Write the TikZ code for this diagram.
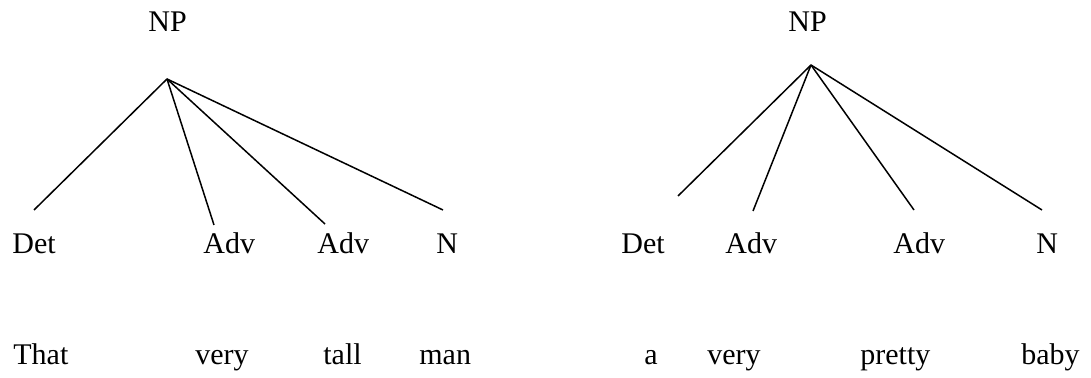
\documentclass[tikz,border=0pt]{standalone}
\usepackage{fontspec}
\setmainfont{Liberation Serif}
\usetikzlibrary{positioning}

\begin{document}
\begin{tikzpicture}[x=0.5pt, y=-0.5pt,
    lbl/.style={anchor=base west, inner sep=0pt, font=\fontsize{15}{18}\selectfont},
    branch/.style={line width=0.75pt, black}]
  \useasboundingbox (0,0) rectangle (1091,378);

  % Left tree: That very tall man
  \node[lbl] (npL) at (148, 32) {NP};
  \coordinate (topL) at (167, 79);
  \node[lbl] (detL) at (12, 254) {Det};
  \node[lbl] (advLa) at (203, 254) {Adv};
  \node[lbl] (advLb) at (317, 254) {Adv};
  \node[lbl] (nL) at (436, 254) {N};
  \coordinate (detLend) at (34, 210);
  \coordinate (advLaend) at (214, 225);
  \coordinate (advLbend) at (325, 224);
  \coordinate (nLend) at (443, 210);
  \node[lbl] (wThat) at (13, 365) {That};
  \node[lbl] (wVeryL) at (195, 365) {very};
  \node[lbl] (wTall) at (323, 365) {tall};
  \node[lbl] (wMan) at (419, 365) {man};

  \draw[branch] (topL) -- (detLend);
  \draw[branch] (topL) -- (advLaend);
  \draw[branch] (topL) -- (advLbend);
  \draw[branch] (topL) -- (nLend);

  % Right tree: a very pretty baby
  \node[lbl] (npR) at (788, 32) {NP};
  \coordinate (topR) at (811, 65);
  \node[lbl] (detR) at (621, 254) {Det};
  \node[lbl] (advRa) at (725, 254) {Adv};
  \node[lbl] (advRb) at (893, 254) {Adv};
  \node[lbl] (nR) at (1036, 254) {N};
  \coordinate (detRend) at (678, 196);
  \coordinate (advRaend) at (753, 211);
  \coordinate (advRbend) at (914, 210);
  \coordinate (nRend) at (1042, 210);
  \node[lbl] (wA) at (644, 365) {a};
  \node[lbl] (wVeryR) at (707, 365) {very};
  \node[lbl] (wPretty) at (860, 365) {pretty};
  \node[lbl] (wBaby) at (1021, 365) {baby};

  \draw[branch] (topR) -- (detRend);
  \draw[branch] (topR) -- (advRaend);
  \draw[branch] (topR) -- (advRbend);
  \draw[branch] (topR) -- (nRend);
\end{tikzpicture}
\end{document}
